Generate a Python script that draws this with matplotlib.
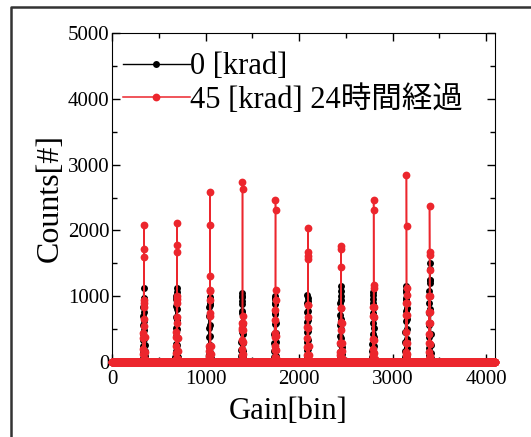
#!/usr/bin/env python3

# ========================================================================
#
# Imports
#
# ========================================================================
import numpy as np
import matplotlib

matplotlib.use("Agg")
import matplotlib.pyplot as plt
from matplotlib.lines import Line2D
from matplotlib.ticker import MultipleLocator

# ========================================================================
#
# Data: gain spectra, counts per bin (zero outside the listed peaks)
#
# ========================================================================
nbins = 4096

# 0 [krad]
black_start = [326, 678, 1033, 1380, 1732, 2079, 2434, 2782, 3133, 3386]
black_counts = [
    [10, 60, 150, 240, 330, 0, 430, 560, 700, 0, 840, 900, 980, 1130, 0, 960, 870, 760, 620, 0, 480, 350, 260, 170, 90, 40, 10],
    [20, 80, 170, 280, 0, 400, 520, 690, 850, 0, 950, 1000, 1130, 0, 1060, 920, 800, 0, 640, 500, 380, 260, 150, 70, 20],
    [10, 50, 120, 230, 380, 0, 520, 700, 830, 0, 900, 990, 0, 960, 870, 720, 560, 0, 400, 260, 150, 60, 20],
    [20, 90, 180, 300, 0, 450, 600, 780, 920, 0, 1010, 1050, 0, 990, 880, 740, 0, 580, 420, 290, 170, 80, 20],
    [10, 70, 160, 290, 0, 420, 580, 730, 880, 0, 960, 1000, 0, 970, 900, 760, 0, 600, 440, 300, 180, 90, 30],
    [20, 80, 190, 300, 0, 450, 610, 760, 0, 900, 1020, 0, 980, 920, 780, 0, 640, 470, 330, 200, 100, 30],
    [10, 60, 150, 270, 0, 400, 560, 720, 890, 0, 1000, 1160, 0, 1080, 940, 820, 0, 660, 500, 360, 230, 120, 50],
    [20, 70, 160, 280, 0, 420, 590, 740, 0, 900, 1020, 1070, 0, 960, 840, 0, 680, 520, 380, 250, 130, 50],
    [10, 80, 170, 300, 0, 450, 620, 780, 940, 0, 1060, 1150, 0, 1100, 980, 0, 820, 660, 500, 350, 220, 110, 40],
    [20, 100, 220, 380, 0, 560, 740, 900, 1080, 0, 1200, 1250, 1500, 0, 1420, 1240, 1000, 0, 800, 600, 420, 260, 140, 60],
]

# 45 [krad], 24 h later
red_start = [331, 683, 1038, 1385, 1737, 2084, 2439, 2787, 3138, 3385]
red_counts = [
    [30, 120, 0, 200, 360, 440, 0, 540, 660, 840, 0, 2075, 1715, 1590, 0, 940, 900, 0, 380, 150, 40],
    [40, 130, 0, 240, 380, 460, 0, 600, 690, 950, 0, 2110, 1780, 1670, 0, 1000, 900, 0, 360, 160, 50],
    [20, 90, 0, 160, 250, 0, 740, 940, 0, 1100, 2580, 2075, 1300, 0, 1080, 700, 0, 250, 120, 30],
    [30, 100, 0, 200, 330, 0, 480, 520, 0, 600, 2740, 2625, 0, 700, 600, 480, 0, 300, 120, 40],
    [20, 80, 0, 180, 250, 385, 0, 436, 640, 0, 790, 2462, 2310, 0, 1094, 942, 0, 400, 180, 60],
    [30, 110, 0, 233, 360, 0, 537, 689, 0, 866, 2041, 1676, 1611, 1560, 0, 870, 520, 0, 240, 100, 30],
    [30, 100, 157, 0, 284, 486, 0, 613, 816, 0, 1763, 1712, 1439, 0, 820, 600, 0, 290, 160, 60],
    [20, 80, 120, 0, 200, 350, 0, 699, 841, 0, 2462, 2310, 1170, 1119, 0, 840, 690, 0, 340, 140, 40],
    [30, 100, 157, 0, 284, 450, 0, 714, 892, 0, 2842, 2067, 1120, 1018, 0, 900, 720, 0, 290, 120, 40],
    [40, 157, 0, 284, 420, 597, 0, 764, 1003, 0, 2375, 1676, 1626, 1398, 0, 1003, 760, 0, 600, 280, 90],
]

labels = ["0 [krad]", "45 [krad] 24時間経過"]

red = "#EC262D"

plt.rcParams["font.family"] = ["Liberation Serif", "Noto Sans CJK JP"]


def spectrum(starts, peaks):
    counts = np.zeros(nbins)
    for s, vals in zip(starts, peaks):
        counts[s : s + len(vals)] = vals
    return counts


# ========================================================================
#
# Main
#
# ========================================================================
if __name__ == "__main__":

    gain = np.arange(nbins)
    c0 = spectrum(black_start, black_counts)
    c45 = spectrum(red_start, red_counts)

    fig = plt.figure(figsize=(5.31, 4.37), dpi=100)
    ax = fig.add_axes([0.2109, 0.1716, 0.7222, 0.7529])

    # markers at zero hang over the bottom spine, so no clipping
    ax.plot(gain, c0, "-o", color="black", lw=1, ms=5.0, mew=0,
            label=labels[0], clip_on=False, zorder=3)
    ax.plot(gain, c45, "-o", color=red, lw=1.1, ms=5.6, mew=0,
            label=labels[1], clip_on=False, zorder=4)

    ax.set_xlim(0, 4100)
    ax.set_ylim(0, 5000)
    ax.xaxis.set_major_locator(MultipleLocator(1000))
    ax.xaxis.set_minor_locator(MultipleLocator(500))
    ax.yaxis.set_major_locator(MultipleLocator(1000))
    ax.yaxis.set_minor_locator(MultipleLocator(500))
    ax.tick_params(which="both", direction="in", top=True, right=True)
    ax.tick_params(which="major", length=6, width=1, labelsize=15, pad=6)
    ax.tick_params(which="minor", length=3.5, width=1)
    ax.tick_params(axis="y", which="major", pad=2)

    ax.set_xlabel("Gain[bin]", fontsize=22, labelpad=0)
    ax.set_ylabel("Counts[#]", fontsize=23, labelpad=2)
    ax.xaxis.set_label_coords(0.46, -0.105)

    leg = ax.legend(
        loc="upper left",
        bbox_to_anchor=(0.02, 0.95),
        frameon=False,
        fontsize=22,
        handlelength=2.2,
        handletextpad=0.0,
        labelspacing=0.12,
        borderaxespad=0.0,
        borderpad=0.1,
    )

    # frame around the plot
    fig.add_artist(
        Line2D(
            [11 / 531, 11 / 531, 1.0],
            [0.0, 1 - 7 / 437, 1 - 7 / 437],
            transform=fig.transFigure,
            color="#333333",
            lw=1.8,
        )
    )

    fig.savefig("out.png", dpi=100)
